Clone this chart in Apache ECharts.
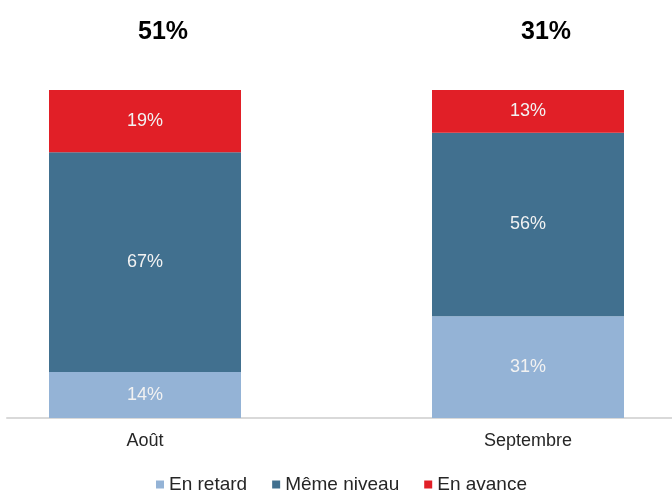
<!DOCTYPE html>
<html>
<head>
<meta charset="utf-8">
<script src="https://cdn.jsdelivr.net/npm/echarts@6/dist/echarts.min.js"></script>
<style>
  html, body { margin: 0; padding: 0; background: #fff; }
  #chart { width: 672px; height: 491px; }
</style>
</head>
<body>
<div id="chart"></div>
<script>
// données
const categories = ['Août', 'Septembre'];
const enRetard = [14, 31];
const memeNiveau = [67, 56];
const enAvance = [19, 13];
const topValues = [51, 31]; // chiffres en gras au-dessus des barres

const font = '"Liberation Sans", Arial, sans-serif';

const inLabel = {
  show: true,
  position: 'inside',
  color: '#f2f2f2',
  fontSize: 18,
  fontFamily: font,
  formatter: '{c}%',
};

const chart = echarts.init(document.getElementById('chart'));
chart.setOption({
  animation: false,
  backgroundColor: '#fff',
  grid: [
    // grille des barres : les catégories tombent sur les bords (boundaryGap false)
    { left: 145, right: 144, top: 90, bottom: 73 },
    // grille vide : seulement la ligne de l'axe
    { left: 7, right: 0, top: 90, bottom: 73 },
  ],
  xAxis: [
    {
      type: 'category',
      gridIndex: 0,
      data: categories,
      boundaryGap: false,
      axisTick: { show: false },
      axisLine: { show: false },
      axisLabel: { color: '#262626', fontSize: 18, fontFamily: font, margin: 14 },
    },
    {
      type: 'value',
      gridIndex: 1,
      min: 0,
      max: 1,
      splitLine: { show: false },
      axisTick: { show: false },
      axisLabel: { show: false },
      axisLine: { show: true, onZero: false, lineStyle: { color: '#d9d9d9', width: 2 } },
    },
  ],
  yAxis: [
    { type: 'value', gridIndex: 0, min: 0, max: 100, show: false },
    { type: 'value', gridIndex: 1, min: 0, max: 100, show: false },
  ],
  legend: {
    data: ['En retard', 'Même niveau', 'En avance'],
    top: 470,
    left: 151,
    icon: 'rect',
    itemWidth: 8,
    itemHeight: 8,
    itemGap: 25,
    textStyle: { color: '#262626', fontSize: 19, fontFamily: font },
  },
  series: [
    {
      name: 'En retard', type: 'bar', stack: 'tot', barWidth: 192, clip: false,
      itemStyle: { color: '#94b3d6' }, label: inLabel, data: enRetard,
    },
    {
      name: 'Même niveau', type: 'bar', stack: 'tot', barWidth: 192, clip: false,
      itemStyle: { color: '#41708f' }, label: inLabel, data: memeNiveau,
    },
    {
      name: 'En avance', type: 'bar', stack: 'tot', barWidth: 192, clip: false,
      itemStyle: { color: '#e11f27' }, label: inLabel, data: enAvance,
    },
    {
      // barre vide pour porter le chiffre du haut
      name: 'total', type: 'bar', stack: 'tot', barWidth: 192, clip: false, silent: true,
      itemStyle: { color: 'transparent' },
      label: {
        show: true,
        position: 'top',
        distance: 45,
        offset: [18, 0],
        color: '#000',
        fontSize: 25,
        fontWeight: 'bold',
        fontFamily: font,
        formatter: (p) => topValues[p.dataIndex] + '%',
      },
      data: [0, 0],
    },
  ],
});
</script>
</body>
</html>
